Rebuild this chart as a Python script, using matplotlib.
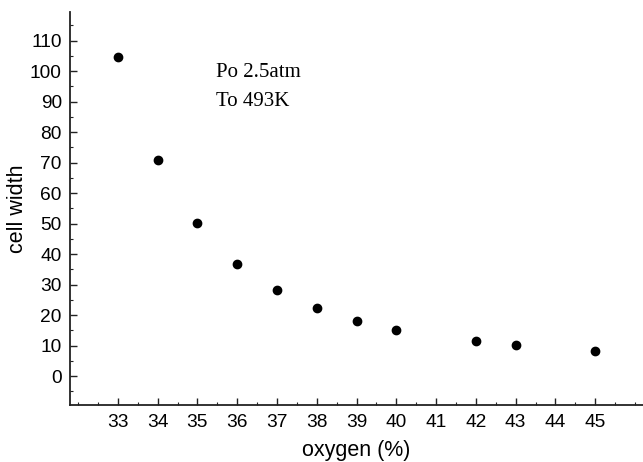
import matplotlib.pyplot as plt
from matplotlib.ticker import MultipleLocator

# oxygen content vs measured cell width
oxygen = [33, 34, 35, 36, 37, 38, 39, 40, 42, 43, 45]
cell_width = [104.6, 70.9, 50.2, 36.8, 28.4, 22.4, 18.1, 15.2, 11.5, 10.1, 8.4]

x_ticks = list(range(33, 46))
y_ticks = list(range(0, 111, 10))

plt.rcParams['font.family'] = ['Liberation Sans', 'DejaVu Sans']

fig = plt.figure(figsize=(6.43, 4.62), dpi=100)
ax = fig.add_axes([0.109, 0.123, 0.891, 0.850])

ax.plot(oxygen, cell_width, 'o', color='black', markersize=6)

ax.set_xlim(31.8, 46.2)
ax.set_ylim(-9.5, 119.2)
ax.set_xticks(x_ticks)
ax.set_yticks(y_ticks)
ax.xaxis.set_minor_locator(MultipleLocator(0.5))
ax.yaxis.set_minor_locator(MultipleLocator(5))

ax.spines['top'].set_visible(False)
ax.spines['right'].set_visible(False)
for s in ('left', 'bottom'):
    ax.spines[s].set_linewidth(1.3)
    ax.spines[s].set_color('#222222')

ax.tick_params(which='major', direction='in', length=5, width=1.0, labelsize=13.8, pad=6, color='#222222')
ax.tick_params(which='minor', direction='in', length=2.5, width=0.8, color='#222222')

ax.set_xlabel('oxygen (%)', fontsize=15.5, labelpad=7)
ax.set_ylabel('cell width', fontsize=15.5)
# pull the y label in closer to the tick labels, like the original
ax.yaxis.set_label_coords(-0.074, 0.5)

ax.text(0.254, 0.835, 'Po 2.5atm', transform=ax.transAxes, fontsize=15,
        family='Liberation Serif', va='baseline')
ax.text(0.254, 0.762, 'To 493K', transform=ax.transAxes, fontsize=15,
        family='Liberation Serif', va='baseline')

fig.savefig('out.png', dpi=100)
